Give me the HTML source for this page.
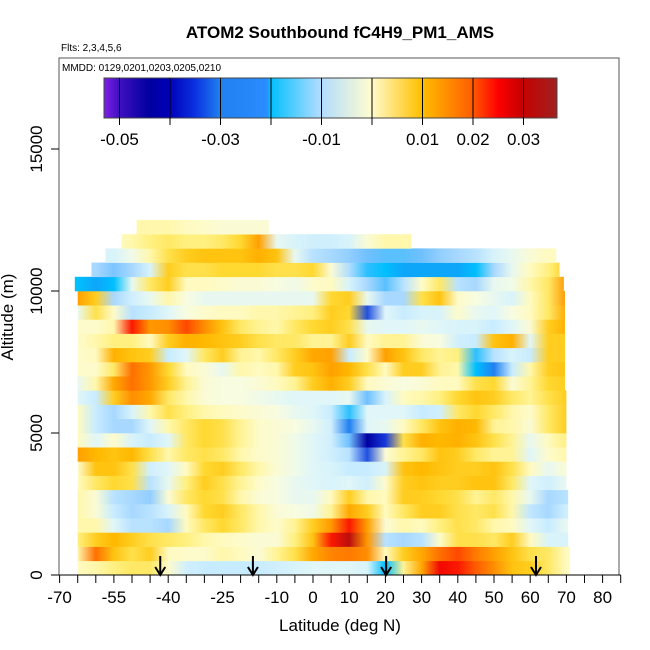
<!DOCTYPE html>
<html><head><meta charset="utf-8"><style>
html,body{margin:0;padding:0;background:#fff;}
svg{display:block;font-family:"Liberation Sans",Arial,sans-serif;}
</style></head><body>
<svg id="chart" width="650" height="650" viewBox="0 0 650 650">
  <defs>
    <linearGradient id="cbar-grad" x1="0" x2="1" y1="0" y2="0">
      <stop offset="0" stop-color="#8020e8"/>
      <stop offset="0.033" stop-color="#4010c0"/>
      <stop offset="0.1" stop-color="#0000a0"/>
      <stop offset="0.143" stop-color="#0000b8"/>
      <stop offset="0.2" stop-color="#0a30e0"/>
      <stop offset="0.256" stop-color="#2080f0"/>
      <stop offset="0.36" stop-color="#2a8cff"/>
      <stop offset="0.366" stop-color="#00bfff"/>
      <stop offset="0.477" stop-color="#b0dcff"/>
      <stop offset="0.589" stop-color="#fffcd0"/>
      <stop offset="0.7" stop-color="#ffc000"/>
      <stop offset="0.81" stop-color="#ff6000"/>
      <stop offset="0.87" stop-color="#ff0000"/>
      <stop offset="0.92" stop-color="#c80000"/>
      <stop offset="1" stop-color="#a02020"/>
    </linearGradient>
  </defs>
  <g id="rows"></g>
  <g id="arrows"></g>
  <rect x="59" y="58" width="560" height="517" fill="none" stroke="#555" stroke-width="1"/>
  <g id="xaxis"></g>
  <g id="yaxis"></g>
  <text x="340" y="38" text-anchor="middle" font-size="17" font-weight="bold">ATOM2 Southbound fC4H9_PM1_AMS</text>
  <text x="61" y="51" font-size="10">Flts: 2,3,4,5,6</text>
  <text x="62" y="71" font-size="10">MMDD: 0129,0201,0203,0205,0210</text>
  <g>
    <rect x="104" y="78" width="453" height="40" fill="url(#cbar-grad)" stroke="#444" stroke-width="1"/>
    <g id="cbar-ticks"></g>
  </g>
  <text x="340" y="631" text-anchor="middle" font-size="17">Latitude (deg N)</text>
  <text x="0" y="0" transform="translate(13,317) rotate(-90)" text-anchor="middle" font-size="17">Altitude (m)</text>
</svg>
<script>
// ---- data ----
const latGrid = [-65,-60,-55,-50,-45,-40,-35,-30,-25,-20,-15,-10,-5,0,5,10,15,20,25,30,35,40,45,50,55,60,65,70];
const rowAltBottom = [0,500,1000,1500,2000,2500,3000,3500,4000,4500,5000,5500,6000,6500,7000,7500,8000,8500,9000,9500,10000,10500,11000,11500,12000];
const rowLatStart = [-65,-65,-65,-65,-65,-65,-65,-65,-65,-65,-65,-65,-65,-65,-65,-65,-65,-65,-65,-65,-65.8,-61.2,-57.3,-52.9,-48.7];
const rowLatEnd = [71,71,70.5,70.5,70.5,70.5,70,70,70,70,70,70,70,69.6,69.6,69.6,69.6,69.6,69.6,69.6,69.3,68.1,67.2,27.2,-12.2];
// values in units of 0.001 (per latGrid point; null = no data)
const row0 = [3,4,6,7,7,2,-5,-6,-6,-6,-6,-5,-4,-3,-3,-3,-4,-20,5,14,27,25,21,17,11,10,7,3];
const row1 = [4,20,11,8,10,3,2,2,4,3,1,5,8,14,18,19,17,3,10,14,20,22,19,15,11,8,7,3];
const row2 = [6,10,12,10,8,7,6,4,3,2,1,1,6,11,25,32,16,-8,-10,-8,2,8,8,7,10,3,-4,-4];
const row3 = [4,4,-3,-8,-8,-10,3,7,9,7,4,2,5,10,16,25,15,1,4,3,6,8,7,4,3,-3,-6,-2];
const row4 = [4,1,-6,-10,-8,-4,3,9,10,7,4,1,0,-1,5,14,10,3,7,10,10,8,7,8,4,-7,-10,-5];
const row5 = [4,1,-8,-10,-12,1,7,9,8,4,1,0,-2,-2,3,10,4,3,10,10,9,8,5,7,4,-2,-10,-8];
const row6 = [3,7,9,8,-8,-2,6,10,8,5,2,0,-2,-3,-4,-3,-5,2,10,11,10,10,11,11,7,-3,-5,-2];
const row7 = [2,11,11,8,-5,-3,3,9,10,7,4,1,-1,-3,-4,-6,-6,-4,11,12,11,10,10,11,8,3,-2,1];
const row8 = [15,12,11,12,8,4,7,8,7,4,2,1,-1,-3,-5,-8,-28,1,5,7,11,10,7,5,5,-3,2,4];
const row9 = [3,-3,2,-4,-6,-3,7,9,8,5,2,1,-1,-3,-5,-15,-45,-30,8,13,12,13,11,8,5,-2,3,6];
const row10 = [3,-6,-10,-10,-3,4,7,9,8,5,2,1,0,-2,-5,-25,-3,-2,3,7,11,13,12,5,4,1,7,10];
const row11 = [3,-6,-10,-4,4,8,6,4,3,2,1,0,-2,-3,-6,-18,-3,-3,-3,-6,-5,7,9,7,4,2,7,10];
const row12 = [-3,-6,10,17,14,7,4,1,0,0,-1,-2,-3,-3,-3,-2,-15,-4,3,4,6,9,11,10,7,5,8,10];
const row13 = [-2,4,14,20,16,10,5,1,0,0,1,3,5,10,13,10,3,1,0,1,3,3,8,9,1,5,9,10];
const row14 = [2,2,7,20,16,9,3,1,-2,4,3,4,10,11,15,12,8,3,10,10,5,4,-20,-25,-6,4,10,11];
const row15 = [2,3,13,11,10,-6,-3,7,10,5,4,7,10,14,15,-6,2,15,11,7,5,6,-18,-8,-4,-6,10,10];
const row16 = [2,4,6,6,3,10,13,12,11,10,8,7,7,5,5,10,3,5,5,1,0,-5,-6,11,13,-3,10,10];
const row17 = [2,2,4,25,16,17,22,17,11,7,5,4,7,9,10,8,-2,-3,-3,-2,-3,-4,-4,-6,-3,1,10,13];
const row18 = [-2,8,2,-8,-6,-3,0,2,3,3,4,4,5,6,10,9,-28,-3,-6,-4,-4,2,-2,-3,0,3,7,14];
const row19 = [15,10,-10,-5,-2,4,0,-2,-2,-2,-2,-2,-2,-2,9,10,-2,-10,-10,8,11,2,0,-2,-4,3,7,16];
const row20 = [-20,-22,-20,-2,7,10,3,3,2,1,1,0,-1,2,3,-4,-10,-16,-8,2,7,-8,-10,-2,-1,4,7,16];
const row21 = [null,-10,-14,-10,-4,10,8,8,9,9,9,8,8,9,1,-9,-18,-20,-22,-22,-22,-22,-20,-10,-2,3,6,10];
const row22 = [null,-4,-4,-1,4,8,10,11,11,11,13,11,-2,-8,-10,-12,-15,-16,-16,-15,-12,-10,-8,-4,-2,1,3,null];
const row23 = [null,null,2,4,6,7,6,6,7,9,15,-2,-4,-5,-5,-4,1,4,null,null,null,null,null,null,null,null,null,null];
const row24 = [null,null,null,null,4,4,3,2,1,1,1,null,null,null,null,null,null,null,null,null,null,null,null,null,null,null,null,null];
const rowValues = [row0,row1,row2,row3,row4,row5,row6,row7,row8,row9,row10,row11,row12,row13,row14,row15,row16,row17,row18,row19,row20,row21,row22,row23,row24];
const arrowLats = [-42.2,-16.6,20.2,61.6];
const xTickValues = [-70,-65,-60,-55,-50,-45,-40,-35,-30,-25,-20,-15,-10,-5,0,5,10,15,20,25,30,35,40,45,50,55,60,65,70,75,80,85];
const xTickLabels = [-70,-55,-40,-25,-10,0,10,20,30,40,50,60,70,80];
const yTickValues = [0,5000,10000,15000];
const cbarTicks = [-0.05,-0.04,-0.03,-0.02,-0.01,0,0.01,0.02,0.03];
const cbarLabels = [-0.05,-0.03,-0.01,0.01,0.02,0.03];

// ---- scales ----
const NS = 'http://www.w3.org/2000/svg';
function xScale(lat){ return 313 + 3.62*lat; }
function yScale(alt){ return 575 - 0.0284*alt; }
function cbScale(v){ return 372 + 5050*v; }
const cStops = [[-50,[64,16,192]],[-45,[0,0,160]],[-35,[0,0,208]],[-28,[32,80,224]],[-25,[32,128,240]],[-20,[0,191,255]],[-15,[112,192,255]],[-10,[168,216,255]],[-6,[200,236,255]],[-3,[224,246,248]],[0,[248,252,224]],[3,[255,250,192]],[6,[255,240,128]],[9,[255,216,48]],[12,[255,184,0]],[16,[255,152,0]],[20,[255,112,0]],[24,[255,32,0]],[28,[238,0,0]],[33,[176,16,16]]];
function color(v){
  if(v<=cStops[0][0]) return 'rgb('+cStops[0][1].join(',')+')';
  for(let i=1;i<cStops.length;i++){
    if(v<=cStops[i][0]){
      const a=cStops[i-1],b=cStops[i],t=(v-a[0])/(b[0]-a[0]);
      return 'rgb('+a[1].map((c,k)=>Math.round(c+(b[1][k]-c)*t)).join(',')+')';
    }
  }
  return 'rgb('+cStops[cStops.length-1][1].join(',')+')';
}
function el(tag,attrs,parent){const e=document.createElementNS(NS,tag);for(const k in attrs)e.setAttribute(k,attrs[k]);parent.appendChild(e);return e;}

const svg=document.getElementById('chart');
const defs=svg.querySelector('defs');
const rowsG=document.getElementById('rows');
const gx0=xScale(latGrid[0]), gx1=xScale(latGrid[latGrid.length-1]);
rowValues.forEach((vals,i)=>{
  const g=el('linearGradient',{id:'rg'+i,gradientUnits:'userSpaceOnUse',x1:gx0,x2:gx1,y1:0,y2:0},defs);
  vals.forEach((v,k)=>{
    if(v===null) return;
    el('stop',{offset:((xScale(latGrid[k])-gx0)/(gx1-gx0)).toFixed(4),'stop-color':color(v)},g);
  });
  const x0=xScale(rowLatStart[i]), x1=xScale(rowLatEnd[i]);
  const yTop=yScale(rowAltBottom[i]+500), yBot=yScale(rowAltBottom[i]);
  const r=el('rect',{x:x0,y:yTop,width:x1-x0,height:yBot-yTop+0.3,fill:'url(#rg'+i+')'},rowsG);
  
  
});

// arrows
const arG=document.getElementById('arrows');
arrowLats.forEach(lat=>{
  const x=xScale(lat);
  const l=el('line',{x1:x,y1:556,x2:x,y2:573,stroke:'#000','stroke-width':2},arG);
  
  
  const p=el('path',{d:`M${x-5},${567} L${x},${575} L${x+5},${567}`,fill:'none',stroke:'#000','stroke-width':2},arG);
  
  
});

// x axis
const xa=document.getElementById('xaxis');
el('line',{x1:xScale(-70),x2:xScale(85),y1:575,y2:575,stroke:'#000','stroke-width':1},xa);
xTickValues.forEach(v=>{
  const t=el('line',{x1:xScale(v),x2:xScale(v),y1:575,y2:583,stroke:'#000'},xa);
  
  
});
xTickLabels.forEach(v=>{
  const t=el('text',{x:xScale(v),y:603,'text-anchor':'middle','font-size':17},xa);
  t.textContent=v;
  
  
});
// y axis (labels rotated, R style)
const ya=document.getElementById('yaxis');
yTickValues.forEach(v=>{
  const t=el('line',{x1:51,x2:59,y1:yScale(v),y2:yScale(v),stroke:'#000'},ya);
  
  
  const l=el('text',{x:0,y:0,transform:`translate(42,${yScale(v)}) rotate(-90)`,'text-anchor':'middle','font-size':17},ya);
  l.textContent=v;
  
  
});
// colorbar
const cb=document.getElementById('cbar-ticks');
cbarTicks.forEach(v=>{
  const t=el('line',{x1:cbScale(v),x2:cbScale(v),y1:78,y2:125,stroke:'#000','stroke-width':1},cb);
  
  
});
cbarLabels.forEach(v=>{
  const t=el('text',{x:cbScale(v),y:145,'text-anchor':'middle','font-size':17},cb);
  t.textContent=v;
  
  
});
</script>
</body></html>
